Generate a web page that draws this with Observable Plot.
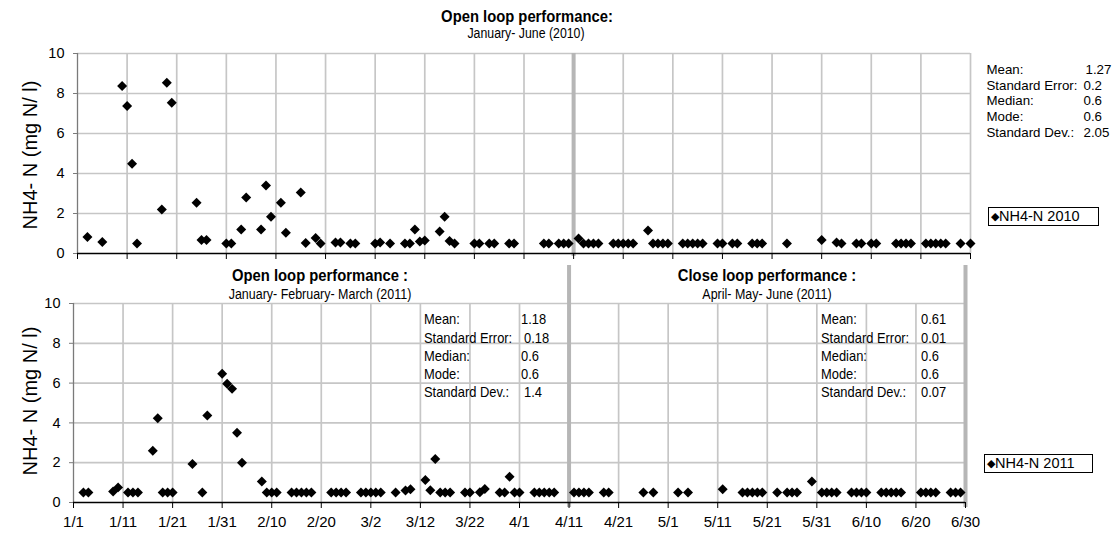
<!DOCTYPE html>
<html><head><meta charset="utf-8">
<script src="https://cdn.jsdelivr.net/npm/d3@7"></script>
<script src="https://cdn.jsdelivr.net/npm/@observablehq/plot@0.6"></script>
<style>
html,body{margin:0;padding:0;background:#fff;}
#wrap{position:relative;width:1115px;height:535px;overflow:hidden;font-family:"Liberation Sans",Arial,sans-serif;color:#000;}
#wrap svg{position:absolute;left:0;}
.t{position:absolute;white-space:nowrap;line-height:1;}
.legend{position:absolute;box-sizing:border-box;border:1px solid #000;background:#fff;font-size:14.5px;line-height:17px;padding-left:2px;white-space:nowrap;}
.legend span{font-size:11px;vertical-align:1px;}
</style></head>
<body><div id="wrap"></div>
<script>
// ---- data ----
const tickLabels = ["1/1","1/11","1/21","1/31","2/10","2/20","3/2","3/12","3/22","4/1","4/11","4/21","5/1","5/11","5/21","5/31","6/10","6/20","6/30"];
const yTicks = [0, 2, 4, 6, 8, 10];

const dates2010 = ["1/3","1/6","1/10","1/11","1/12","1/13","1/18","1/19","1/20","1/25","1/26","1/27","1/31","2/1","2/3","2/4","2/7","2/8","2/9","2/11","2/12","2/15","2/16","2/18","2/19","2/22","2/23","2/25","2/26","3/2","3/3","3/5","3/8","3/9","3/10","3/11","3/12","3/15","3/16","3/17","3/18","3/22","3/23","3/25","3/26","3/29","3/30","4/5","4/6","4/8","4/9","4/10","4/12","4/13","4/14","4/15","4/16","4/19","4/20","4/21","4/22","4/23","4/26","4/27","4/28","4/29","4/30","5/3","5/4","5/5","5/6","5/7","5/10","5/11","5/13","5/14","5/17","5/18","5/19","5/24","5/31","6/3","6/4","6/7","6/8","6/10","6/11","6/15","6/16","6/17","6/18","6/21","6/22","6/23","6/24","6/25","6/28","6/30"];
const nh4_2010 = [0.83,0.58,8.37,7.37,4.49,0.5,2.2,8.54,7.54,2.54,0.67,0.67,0.5,0.5,1.2,2.8,1.2,3.4,1.84,2.54,1.04,3.05,0.53,0.77,0.5,0.55,0.55,0.5,0.5,0.5,0.55,0.5,0.5,0.5,1.2,0.6,0.65,1.1,1.84,0.63,0.5,0.5,0.5,0.5,0.5,0.5,0.5,
  0.5,0.5,0.5,0.5,0.5, 0.75, 0.5,0.5,0.5,0.5, 0.5,0.5,0.5,0.5,0.5, 1.15, 0.5,0.5,0.5,0.5, 0.5,0.5,0.5,0.5,0.5, 0.5,0.5,0.5,0.5, 0.5,0.5,0.5, 0.5, 0.67, 0.55,0.5, 0.5,0.5,0.5,0.5, 0.5,0.5,0.5,0.5, 0.5,0.5,0.5,0.5,0.5, 0.5,0.5];

const dates2011 = ["1/3","1/4","1/9","1/10","1/12","1/13","1/14","1/17","1/18","1/19","1/20","1/21","1/25","1/27","1/28","1/31","2/1","2/2","2/3","2/4","2/8","2/9","2/10","2/11","2/14","2/15","2/16","2/17","2/18","2/22","2/23","2/24","2/25","2/28","3/1","3/2","3/3","3/4","3/7","3/9","3/10","3/13","3/14","3/15","3/16","3/17","3/18","3/21","3/22","3/24","3/25","3/28","3/29","3/30","3/31","4/1","4/4","4/5","4/6","4/7","4/8","4/12","4/13","4/14","4/15","4/18","4/19","4/26","4/28","5/3","5/5","5/12","5/16","5/17","5/18","5/19","5/20","5/23","5/25","5/26","5/27","5/30","6/1","6/2","6/3","6/4","6/7","6/8","6/9","6/10","6/13","6/14","6/15","6/16","6/17","6/21","6/22","6/23","6/24","6/27","6/28","6/29"];
const nh4_2011 = [0.5,0.5,0.55,0.76,0.5,0.5,0.5, 2.6,4.23,0.5,0.5,0.5, 1.93,0.5,4.37, 6.47,5.97,5.71,3.51,2.0, 1.06,0.5,0.5,0.5, 0.5,0.5,0.5,0.5,0.5, 0.5,0.5,0.5,0.5, 0.5,0.5,0.5,0.5,0.5, 0.5,0.6,0.67, 1.13,0.62,2.19, 0.5,0.5,0.5, 0.5,0.5, 0.52,0.68, 0.5,0.5,1.3,0.5,0.5,
  0.5,0.5,0.5,0.5,0.5, 0.5,0.5,0.5,0.5, 0.5,0.5, 0.5,0.5, 0.5,0.5, 0.67, 0.5,0.5,0.5,0.5,0.5, 0.5,0.5,0.5,0.5, 1.06, 0.5,0.5,0.5,0.5, 0.5,0.5,0.5,0.5, 0.5,0.5,0.5,0.5,0.5, 0.5,0.5,0.5,0.5, 0.5,0.5,0.5];

const statNames = ["Mean:", "Standard Error:", "Median:", "Mode:", "Standard Dev.:"];
const stats2010 = ["1.27", "0.2", "0.6", "0.6", "2.05"];
const statsOpen2011 = ["1.18", "0.18", "0.6", "0.6", "1.4"];
const statsClose2011 = ["0.61", "0.01", "0.6", "0.6", "0.07"];

// ---- helpers ----
const toDate = (md, year) => { const [m, d] = md.split("/").map(Number); return new Date(Date.UTC(year, m - 1, d)); };
const rows = (dates, vals, year) => dates.map((d, i) => ({date: toDate(d, year), v: vals[i]}));
const data2010 = rows(dates2010, nh4_2010, 2010);
const data2011 = rows(dates2011, nh4_2011, 2011);
const ticks2010 = tickLabels.map(s => toDate(s, 2010));
const ticks2011 = tickLabels.map(s => toDate(s, 2011));
const labelMap = new Map(ticks2011.map((d, i) => [+d, tickLabels[i]]));

const GRID = "#c6c6c6", THICK = "#b6b6b6", AXISC = "#7a7a7a";
const font = {fontFamily: "'Liberation Sans', Arial, sans-serif", fontSize: "14px", background: "transparent", color: "#000"};

const wrap = document.getElementById("wrap");

// ---- top panel (2010) ----
const topChart = Plot.plot({
  width: 1115, height: 265,
  marginLeft: 77, marginRight: 145, marginTop: 53, marginBottom: 12,
  style: font,
  x: {type: "utc", domain: [ticks2010[0], ticks2010[ticks2010.length - 1]], axis: null},
  y: {domain: [0, 10], axis: null},
  marks: [
    Plot.ruleY(yTicks.slice(1), {stroke: GRID, strokeWidth: 1.7}),
    Plot.ruleX(ticks2010.slice(1), {stroke: GRID, strokeWidth: 1.7}),
    Plot.ruleX([ticks2010[10]], {stroke: THICK, strokeWidth: 4, insetBottom: -3}),
    Plot.ruleX([ticks2010[0]], {stroke: AXISC, strokeWidth: 1.3}),
    Plot.axisY({ticks: yTicks, tickSize: 4, tickPadding: 9, fontSize: 14.5, label: null, stroke: AXISC}),
    Plot.ruleX(ticks2010, {y1: 0, y2: 0, insetBottom: -6, stroke: "#000"}),
    Plot.ruleY([0], {stroke: "#000", strokeWidth: 1.5}),
    Plot.dot(data2010, {x: "date", y: "v", symbol: "diamond2", r: 4.5, fill: "#000", stroke: "none"})
  ]
});
topChart.style.top = "0px";
wrap.appendChild(topChart);

// ---- bottom panel (2011) ----
const bottomChart = Plot.plot({
  width: 1115, height: 270,
  marginLeft: 73, marginRight: 150, marginTop: 38, marginBottom: 33,
  style: font,
  x: {type: "utc", domain: [ticks2011[0], ticks2011[ticks2011.length - 1]]},
  y: {domain: [0, 10]},
  marks: [
    Plot.ruleY(yTicks.slice(1), {stroke: GRID, strokeWidth: 1.7}),
    Plot.ruleX(ticks2011.slice(1), {stroke: GRID, strokeWidth: 1.7}),
    Plot.ruleX([ticks2011[10], ticks2011[18]], {stroke: THICK, strokeWidth: 4, insetTop: -38, insetBottom: -5}),
    Plot.ruleX([ticks2011[0]], {stroke: AXISC, strokeWidth: 1.3}),
    Plot.axisY({ticks: yTicks, tickSize: 4, tickPadding: 9, fontSize: 14.5, label: null, stroke: AXISC}),
    Plot.axisX({ticks: ticks2011, tickSize: 6, tickPadding: 8, fontSize: 15, label: null, tickFormat: d => labelMap.get(+d), stroke: "#000"}),
    Plot.ruleY([0], {stroke: "#000", strokeWidth: 1.5}),
    Plot.dot(data2011, {x: "date", y: "v", symbol: "diamond2", r: 4.5, fill: "#000", stroke: "none"})
  ]
});
bottomChart.style.top = "265px";
wrap.appendChild(bottomChart);

// ---- text overlays ----
function text(str, x, y, {anchor = "middle", size = 14, weight = "normal", sx = 1} = {}) {
  const el = document.createElement("div");
  el.className = "t";
  el.textContent = str;
  el.style.left = x + "px";
  el.style.top = y + "px";
  el.style.fontSize = size + "px";
  el.style.fontWeight = weight;
  if (anchor === "middle") {
    el.style.transform = `translate(-50%,-50%) scaleX(${sx})`;
  } else {
    el.style.transformOrigin = "0 50%";
    el.style.transform = `translate(0,-50%) scaleX(${sx})`;
  }
  wrap.appendChild(el);
  return el;
}
function yTitle(y) {
  const el = text("NH4- N (mg N/ l)", 30, y, {size: 20});
  el.style.transform = "translate(-50%,-50%) rotate(-90deg)";
}

text("Open loop performance:", 527, 16, {size: 17, weight: "bold", sx: 0.87});
text("January- June (2010)", 526, 33, {size: 14, sx: 0.88});
text("Open loop performance :", 320, 275, {size: 17, weight: "bold", sx: 0.87});
text("January- February- March (2011)", 320, 294, {size: 14, sx: 0.89});
text("Close loop performance :", 767, 275, {size: 17, weight: "bold", sx: 0.87});
text("April- May- June (2011)", 767, 294, {size: 14, sx: 0.89});
yTitle(155);
yTitle(401);

const topRows = [69.5, 85.5, 101, 116.5, 132.5];
statNames.forEach((s, i) => {
  text(s, 986.5, topRows[i], {anchor: "start", size: 13.3});
  text(stats2010[i], i === 0 ? 1085.5 : 1083.5, topRows[i], {anchor: "start", size: 13.3});
});
const botRows = [318, 336.5, 354.5, 373, 391];
statNames.forEach((s, i) => {
  text(s, 424, botRows[i], {anchor: "start", size: 15, sx: 0.86});
  text(statsOpen2011[i], i === 1 || i === 4 ? 524 : 521, botRows[i], {anchor: "start", size: 15, sx: 0.86});
  text(s, 820.5, botRows[i], {anchor: "start", size: 15, sx: 0.86});
  text(statsClose2011[i], 921, botRows[i], {anchor: "start", size: 15, sx: 0.86});
});

function legend(label, x, y, w) {
  const el = document.createElement("div");
  el.className = "legend";
  const sym = document.createElement("span");
  sym.textContent = "\u25C6";
  el.appendChild(sym);
  el.appendChild(document.createTextNode(label));
  el.style.left = x + "px"; el.style.top = y + "px";
  el.style.width = w + "px"; el.style.height = "19px";
  wrap.appendChild(el);
}
legend("NH4-N 2010", 988, 206.5, 111);
legend("NH4-N 2011", 984, 453.5, 109);
</script>
</body></html>
